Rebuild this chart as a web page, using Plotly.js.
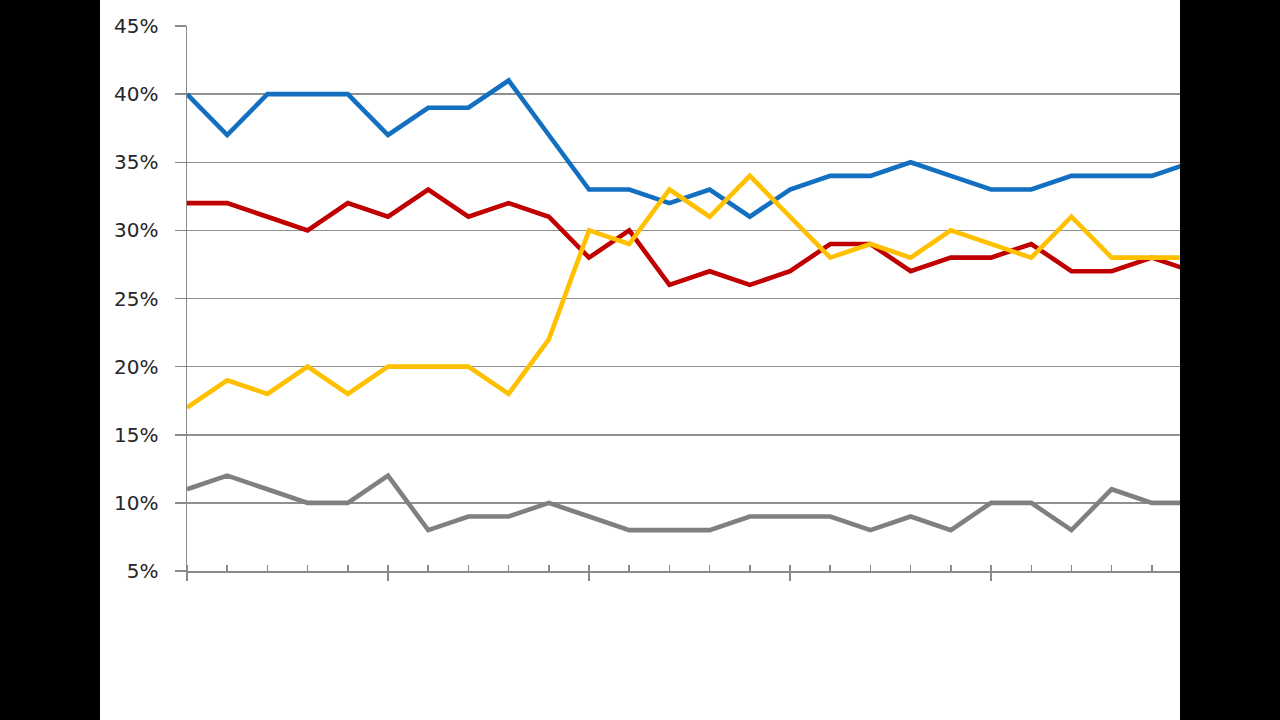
<!DOCTYPE html>
<html>
<head>
<meta charset="utf-8">
<script src="https://cdn.plot.ly/plotly-3.0.1.min.js"></script>
<style>
  html, body { margin: 0; padding: 0; background: #000; width: 1280px; height: 720px; overflow: hidden; }
  #chart { position: absolute; left: 100px; top: 0; width: 1080px; height: 720px; background: #fff; }
</style>
</head>
<body>
<div id="chart"></div>
<script>
// one point per period, no x labels on the original
const periods = [0, 1, 2, 3, 4, 5, 6, 7, 8, 9, 10, 11, 12, 13, 14, 15, 16, 17, 18, 19, 20, 21, 22, 23, 24, 25];

const blueSeries   = [40, 37, 40, 40, 40, 37, 39, 39, 41, 37, 33, 33, 32, 33, 31, 33, 34, 34, 35, 34, 33, 33, 34, 34, 34, 35];
const redSeries    = [32, 32, 31, 30, 32, 31, 33, 31, 32, 31, 28, 30, 26, 27, 26, 27, 29, 29, 27, 28, 28, 29, 27, 27, 28, 27];
const yellowSeries = [17, 19, 18, 20, 18, 20, 20, 20, 18, 22, 30, 29, 33, 31, 34, 31, 28, 29, 28, 30, 29, 28, 31, 28, 28, 28];
const graySeries   = [11, 12, 11, 10, 10, 12, 8, 9, 9, 10, 9, 8, 8, 8, 9, 9, 9, 8, 9, 8, 10, 10, 8, 11, 10, 10];

const yTicks = [5, 10, 15, 20, 25, 30, 35, 40, 45];
const yTickLabels = ['5%', '10%', '15%', '20%', '25%', '30%', '35%', '40%', '45%'];

function line(values, color) {
    return {
        x: periods,
        y: values,
        type: 'scatter',
        mode: 'lines',
        line: { color: color, width: 4.6 },
        hoverinfo: 'skip'
    };
}

const traces = [
    line(blueSeries, '#1370c0'),
    line(redSeries, '#c00000'),
    line(yellowSeries, '#ffc000'),
    line(graySeries, '#808080')
];

const layout = {
    width: 1080,
    height: 720,
    margin: { l: 87, r: 0, t: 26, b: 149 },
    paper_bgcolor: '#ffffff',
    plot_bgcolor: '#ffffff',
    showlegend: false,
    font: { family: 'DejaVu Sans, Verdana, sans-serif', size: 20, color: '#262626' },
    xaxis: {
        range: [0, 24.7],
        showgrid: false,
        zeroline: false,
        showline: true,
        linecolor: '#8a8a8a',
        linewidth: 1.5,
        showticklabels: false,
        tickmode: 'linear',
        tick0: 0,
        dtick: 5,
        ticks: 'outside',
        ticklen: 8,
        tickwidth: 1.5,
        tickcolor: '#8a8a8a',
        minor: { dtick: 1, tick0: 0, ticks: 'inside', ticklen: 6, tickwidth: 1.5, tickcolor: '#8a8a8a' }
    },
    yaxis: {
        range: [5, 45],
        tickmode: 'array',
        tickvals: yTicks,
        ticktext: yTickLabels,
        showgrid: true,
        gridcolor: '#8f8f8f',
        gridwidth: 1.5,
        zeroline: false,
        showline: true,
        linecolor: '#8a8a8a',
        linewidth: 1.5,
        ticks: 'outside',
        ticklen: 11,
        tickwidth: 1.5,
        tickcolor: '#8a8a8a',
        ticklabelstandoff: 12
    }
};

Plotly.newPlot('chart', traces, layout, { staticPlot: true, displayModeBar: false });
</script>
</body>
</html>
